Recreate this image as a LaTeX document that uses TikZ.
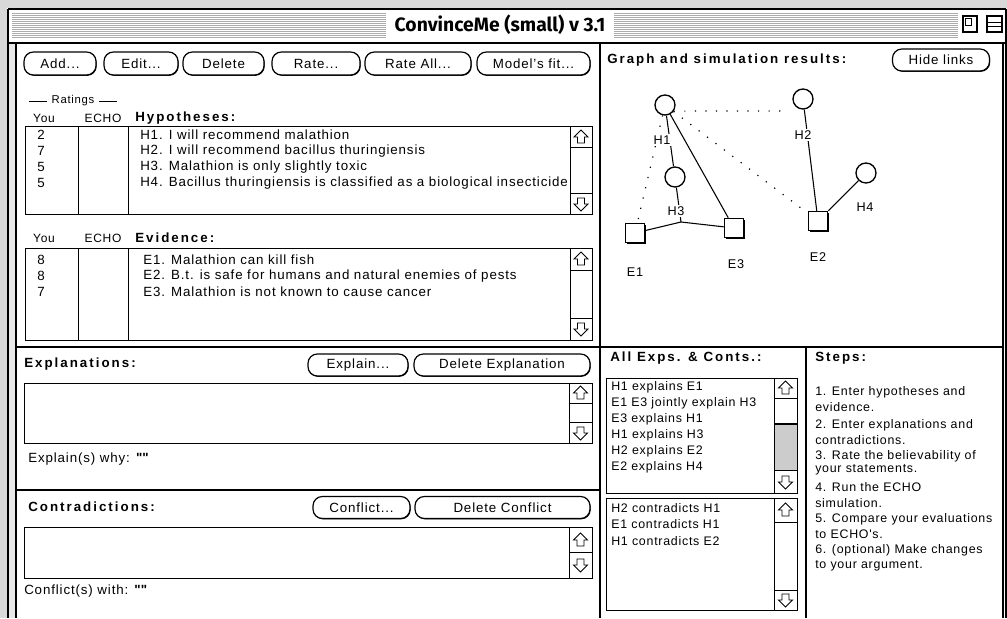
\documentclass[tikz,border=0pt]{standalone}
\usepackage{fontspec}
\setmainfont{Liberation Sans}[LetterSpace=6.5]
\newfontfamily\rfam{Liberation Sans}[LetterSpace=6]
\newfontfamily\qfam{Liberation Sans}
\newfontfamily\hdfam{Liberation Sans}[LetterSpace=15]
\newfontfamily\ttlfam{Fira Sans}
\usetikzlibrary{shadows}
\begin{document}
\begin{tikzpicture}[x=0.75pt,y=-0.75pt,
  txt/.style={anchor=west,inner sep=0pt,font=\fontsize{10}{11}\selectfont},
  rtxt/.style={anchor=west,inner sep=0pt,font=\rfam\fontsize{9.3}{10}\selectfont},
  ctr/.style={anchor=center,inner sep=0pt,font=\rfam\fontsize{9}{10}\selectfont},
  tiny/.style={anchor=center,inner sep=0pt,font=\rfam\fontsize{8.5}{9}\selectfont},
  hd/.style={anchor=west,inner sep=0pt,font=\hdfam\bfseries\fontsize{10}{11}\selectfont},
  btn/.style={draw,line width=0.9pt,rounded corners=7pt,inner sep=0pt,fill=white,font=\fontsize{10}{11}\selectfont,
    drop shadow={shadow xshift=0.5pt,shadow yshift=-0.6pt,opacity=1,fill=black}},
  frame/.style={line width=1.5pt},
  box/.style={line width=0.75pt},
  hnode/.style={circle,draw,line width=1pt,minimum size=15pt,inner sep=0pt,fill=white},
  enode/.style={rectangle,draw,line width=0.9pt,minimum size=14.5pt,inner sep=0pt,fill=white,
    drop shadow={shadow xshift=0.9pt,shadow yshift=-0.9pt,opacity=1,fill=black}},
  lbl/.style={inner sep=1pt,fill=white,font=\rfam\fontsize{9.5}{10}\selectfont},
  link/.style={line width=0.8pt},
  dlink/.style={line width=0.9pt,dash pattern=on 0.9pt off 7pt},
  pics/uparr/.style={code={\draw[line width=0.7pt] (0,-7) -- (7,0) -- (3.5,0) -- (3.5,6) -- (-3.5,6) -- (-3.5,0) -- (-7,0) -- cycle;}},
  pics/downarr/.style={code={\draw[line width=0.7pt] (0,7) -- (7,0) -- (3.5,0) -- (3.5,-6) -- (-3.5,-6) -- (-3.5,0) -- (-7,0) -- cycle;}},
]
\useasboundingbox (0,0) rectangle (1007,618);
\fill[white] (0,0) rectangle (1007,618);
% desktop texture and window edges
\fill[gray!30] (0,0) rectangle (1007,8);
\fill[gray!30] (0,0) rectangle (7,618);
\fill[gray!18] (9,44) rectangle (15,618);
\draw[line width=0.8pt] (8,9) -- (1006,9);
\draw[line width=0.8pt] (8,9) -- (8,618);
\draw[line width=0.8pt] (1006,9) -- (1006,618);
% title bar stripes
\foreach \yy in {13,15,...,37} {
  \draw[gray!65,line width=0.6pt] (12,\yy) -- (386,\yy);
  \draw[gray!65,line width=0.6pt] (614,\yy) -- (958,\yy);
}
\node[font=\ttlfam\bfseries\fontsize{14.5}{16}\selectfont,inner sep=0pt] (title) at (500,25) {ConvinceMe (small) v 3.1};
% title icons
\draw[line width=0.8pt] (963,16) rectangle (977,32);
\draw[line width=0.6pt] (965,18) rectangle (971,25);
\draw[line width=0.8pt] (987,16) rectangle (1002,32);
\draw[line width=0.6pt] (987,22) -- (1002,22) (987,26) -- (1002,26);
% main frame
\draw[line width=2.2pt] (8,43) -- (1006,43);
\draw[line width=1.6pt] (16,43) -- (16,618);
\draw[line width=1.6pt] (1003,43) -- (1003,618);
\draw[frame] (600,43) -- (600,618);
\draw[frame] (16,347) -- (1003,347);
\draw[frame] (16,490) -- (600,490);
\draw[frame] (806,347) -- (806,618);

% ---------- top-left buttons ----------
\node[btn,minimum width={72*0.75pt},minimum height={23*0.75pt}] (badd) at (60,63.5) {Add...};
\node[btn,minimum width={74*0.75pt},minimum height={23*0.75pt}] (bedit) at (141,63.5) {Edit...};
\node[btn,minimum width={81*0.75pt},minimum height={23*0.75pt}] (bdel) at (223.5,63.5) {Delete};
\node[btn,minimum width={88*0.75pt},minimum height={23*0.75pt}] (brate) at (316,63.5) {Rate...};
\node[btn,minimum width={106*0.75pt},minimum height={23*0.75pt}] (brall) at (418,63.5) {Rate All...};
\node[btn,minimum width={113*0.75pt},minimum height={23*0.75pt}] (bfit) at (533.5,63.5) {Model's fit...};

% ---------- Hypotheses ----------
\draw[line width=0.6pt] (29,101) -- (47,101) (99,101) -- (117,101);
\node[tiny] (ratings) at (73,101) {Ratings};
\node[ctr] (hyou) at (44,118) {You};
\node[ctr] (hecho) at (103,118) {ECHO};
\node[hd] (hhyp) at (135,118) {Hypotheses:};
\draw[box] (25,126) rectangle (592,214);
\draw[box] (78,126) -- (78,214) (128,126) -- (128,214) (570,126) -- (570,214);
\draw[box] (570,147) -- (592,147) (570,193) -- (592,193);
\pic at (581,137) {uparr};
\pic at (581,204) {downarr};
\node[txt] (hr1) at (37,135) {2};
\node[txt] (hr2) at (37,151) {7};
\node[txt] (hr3) at (37,167) {5};
\node[txt] (hr4) at (37,183) {5};
\node[txt] (ht1) at (140,135) {H1. I will recommend malathion};
\node[txt] (ht2) at (140,151) {H2. I will recommend bacillus thuringiensis};
\node[txt] (ht3) at (140,167) {H3. Malathion is only slightly toxic};
\node[txt] (ht4) at (140,183) {H4. Bacillus thuringiensis is classified as a biological insecticide};

% ---------- Evidence ----------
\node[ctr] (eyou) at (44,238) {You};
\node[ctr] (eecho) at (103,238) {ECHO};
\node[hd] (hevi) at (135,238) {Evidence:};
\draw[box] (25,248) rectangle (592,340);
\draw[box] (78,248) -- (78,340) (128,248) -- (128,340) (570,248) -- (570,340);
\draw[box] (570,270) -- (592,270) (570,318) -- (592,318);
\pic at (581,259) {uparr};
\pic at (581,329) {downarr};
\node[txt] (er1) at (37,260) {8};
\node[txt] (er2) at (37,276) {8};
\node[txt] (er3) at (37,292) {7};
\node[txt] (et1) at (143,260) {E1. Malathion can kill fish};
\node[txt] (et2) at (143,276) {E2. B.t. is safe for humans and natural enemies of pests};
\node[txt] (et3) at (143,292) {E3. Malathion is not known to cause cancer};

% ---------- Graph ----------
\node[hd] (hgraph) at (607,60) {Graph and simulation results:};
\node[btn,minimum width={97*0.75pt},minimum height={22*0.75pt}] (bhide) at (941,60) {Hide links};
\node[hnode] (h1) at (665,105) {};
\node[hnode] (h2) at (803,99) {};
\node[hnode] (h3) at (675,177) {};
\node[hnode] (h4) at (866,173) {};
\node[enode] (e1) at (635,233) {};
\node[enode] (e3) at (734,228) {};
\node[enode] (e2) at (818,221) {};
\coordinate (j) at (681,222);
\coordinate (h12end) at (783,111);
\draw[dlink] (h1.-35) -- (h12end);
\draw[dlink] (h1) -- (e1);
\draw[dlink] (h1) -- (e2);
\draw[link] (h1) -- (h3);
\draw[link] (h1) -- (e3);
\draw[link] (h2) -- (e2);
\draw[link] (h3) -- (j);
\draw[link] (j) -- (e1);
\draw[link] (j) -- (e3);
\draw[link] (h4) -- (e2);
\node[lbl] (h1l) at (662,140) {H1};
\node[lbl] (h2l) at (803,135) {H2};
\node[lbl] (h3l) at (676,211) {H3};
\node[lbl] (h4l) at (865,207) {H4};
\node[lbl] (e1l) at (635,272) {E1};
\node[lbl] (e3l) at (736,264) {E3};
\node[lbl] (e2l) at (818,257) {E2};

% ---------- Explanations ----------
\node[hd] (hexp) at (24,364) {Explanations:};
\node[btn,minimum width={100*0.75pt},minimum height={22*0.75pt}] (bexpl) at (358,365) {Explain...};
\node[btn,minimum width={176*0.75pt},minimum height={22*0.75pt}] (bdelx) at (502,365) {Delete Explanation};
\draw[box] (24,383) rectangle (592,443);
\draw[box] (569,383) -- (569,443) (569,403) -- (592,403) (569,422) -- (592,422);
\pic at (580.5,393) {uparr};
\pic at (580.5,433) {downarr};
\node[txt] (why) at (28,459) {Explain(s) why: {\qfam\bfseries\char34\char34}};

% ---------- Contradictions ----------
\node[hd] (hcon) at (28,507) {Contradictions:};
\node[btn,minimum width={97*0.75pt},minimum height={22*0.75pt}] (bconf) at (361.5,507.5) {Conflict...};
\node[btn,minimum width={175*0.75pt},minimum height={22*0.75pt}] (bdelc) at (502.5,507.5) {Delete Conflict};
\draw[box] (24,527) rectangle (592,578);
\draw[box] (569,527) -- (569,578) (569,552) -- (592,552);
\pic at (580.5,540) {uparr};
\pic at (580.5,565) {downarr};
\node[txt] (cwith) at (24,591) {Conflict(s) with: {\qfam\bfseries\char34\char34}};

% ---------- All Exps & Conts ----------
\node[hd] (hall) at (610,358) {All Exps. \& Conts.:};
\draw[box] (606,378) rectangle (797,493);
\fill[gray!40] (774,424) rectangle (797,470);
\draw[box] (774,378) -- (774,493) (774,398) -- (797,398) (774,470) -- (797,470);
\draw[line width=1.2pt] (774,424) -- (797,424);
\pic at (785.5,388) {uparr};
\pic at (785.5,482) {downarr};
\node[rtxt] (x1) at (611,387) {H1 explains E1};
\node[rtxt] (x2) at (611,403) {E1 E3 jointly explain H3};
\node[rtxt] (x3) at (611,419) {E3 explains H1};
\node[rtxt] (x4) at (611,435) {H1 explains H3};
\node[rtxt] (x5) at (611,451) {H2 explains E2};
\node[rtxt] (x6) at (611,467) {E2 explains H4};
\draw[box] (606,498) rectangle (797,610);
\draw[box] (774,498) -- (774,610) (774,522) -- (797,522) (774,590) -- (797,590);
\pic at (785.5,510) {uparr};
\pic at (785.5,600) {downarr};
\node[rtxt] (c1) at (611,508) {H2 contradicts H1};
\node[rtxt] (c2) at (611,524) {E1 contradicts H1};
\node[rtxt] (c3) at (611,541) {H1 contradicts E2};

% ---------- Steps ----------
\node[hd] (hsteps) at (815,358) {Steps:};
\node[rtxt] (s1a) at (815,392) {1. Enter hypotheses and};
\node[rtxt] (s1b) at (815,407) {evidence.};
\node[rtxt] (s2a) at (815,425) {2. Enter explanations and};
\node[rtxt] (s2b) at (815,440) {contradictions.};
\node[rtxt] (s3a) at (815,456) {3. Rate the believability of};
\node[rtxt] (s3b) at (815,470) {your statements.};
\node[rtxt] (s4a) at (815,487) {4. Run the ECHO};
\node[rtxt] (s4b) at (815,503) {simulation.};
\node[rtxt] (s5a) at (815,519) {5. Compare your evaluations};
\node[rtxt] (s5b) at (815,534) {to ECHO's.};
\node[rtxt] (s6a) at (815,550) {6. (optional) Make changes};
\node[rtxt] (s6b) at (815,566) {to your argument.};
\end{tikzpicture}
\end{document}
